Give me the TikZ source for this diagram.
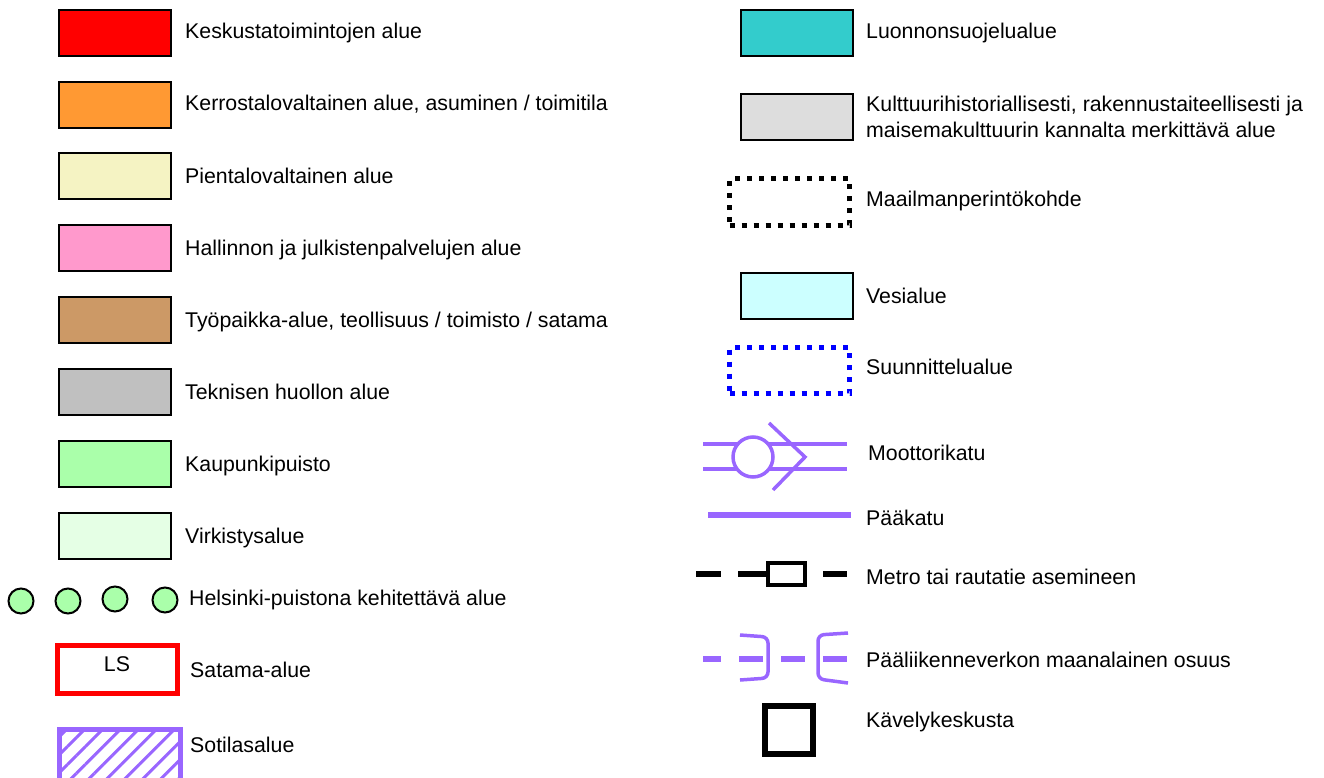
\documentclass[tikz,border=0pt]{standalone}
\usepackage{fontspec}
\setmainfont{Liberation Sans}
\usetikzlibrary{patterns.meta}
\definecolor{keskusta}{HTML}{FF0000}
\definecolor{kerrostalo}{HTML}{FF9933}
\definecolor{pientalo}{HTML}{F5F3C3}
\definecolor{hallinto}{HTML}{FF99CC}
\definecolor{tyopaikka}{HTML}{CC9966}
\definecolor{tekninen}{HTML}{C0C0C0}
\definecolor{puisto}{HTML}{AAFFAA}
\definecolor{virkistys}{HTML}{E5FFE5}
\definecolor{luonto}{HTML}{33CCCC}
\definecolor{kulttuuri}{HTML}{DDDDDD}
\definecolor{vesi}{HTML}{CCFFFF}
\definecolor{purp}{HTML}{9966FF}
\tikzset{
  swatch/.style={draw, line width=1.5pt, minimum width=112pt, minimum height=46pt, inner sep=0pt},
  lbl/.style={anchor=base west, inner sep=0pt, font=\fontsize{21.3}{26}\selectfont},
  dots/.style={draw, line width=5pt, dash pattern=on 5pt off 7pt, minimum width=120pt, minimum height=46pt, inner sep=0pt},
  road/.style={draw=purp, line width=3.5pt},
}
\newcommand{\lbl}[1]{node[lbl]{#1}}

\begin{document}
\begin{tikzpicture}[x=1pt,y=-1pt]
\useasboundingbox (0,0) rectangle (1324,778);
% left column: land use
\node[swatch, fill=keskusta] (keskusta) at (115,33) {};
\node[swatch, fill=kerrostalo] (kerrostalo) at (115,105) {};
\node[swatch, fill=pientalo] (pientalo) at (115,176) {};
\node[swatch, fill=hallinto] (hallinto) at (115,248) {};
\node[swatch, fill=tyopaikka] (tyopaikka) at (115,320) {};
\node[swatch, fill=tekninen] (tekninen) at (115,392) {};
\node[swatch, fill=puisto] (puisto) at (115,464) {};
\node[swatch, fill=virkistys] (virkistys) at (115,536) {};
\draw (185,39) \lbl{Keskustatoimintojen alue}
  (185,111) \lbl{Kerrostalovaltainen alue, asuminen / toimitila}
  (185,183) \lbl{Pientalovaltainen alue}
  (185,255) \lbl{Hallinnon ja julkistenpalvelujen alue}
  (185,327) \lbl{Työpaikka-alue, teollisuus / toimisto / satama}
  (185,399) \lbl{Teknisen huollon alue}
  (185,471) \lbl{Kaupunkipuisto}
  (185,543) \lbl{Virkistysalue};
\foreach \x/\y [count=\i] in {21/601, 68/601, 115/599, 165/600}
  \node[circle, draw, line width=2pt, fill=puisto, minimum size=25pt, inner sep=0pt] (hp\i) at (\x,\y) {};
\node[lbl] (helsinkipuisto) at (189,605) {Helsinki-puistona kehitettävä alue};
\node[draw=keskusta, line width=5pt, minimum width=120pt, minimum height=48pt, inner sep=0pt] (satama) at (117.5,669.5) {};
\node[lbl, anchor=base] at (117,671) {LS};
\node[lbl] at (190,677) {Satama-alue};
\node[draw=purp, line width=5pt, minimum width=121pt, minimum height=51.5pt, inner sep=0pt,
  pattern={Lines[angle=45,distance=12.7pt,line width=3pt]}, pattern color=purp] (sotilas) at (120,755.25) {};
\node[lbl] at (190,752) {Sotilasalue};
% right column
\node[swatch, fill=luonto] (luonto) at (797,33) {};
\node[swatch, fill=kulttuuri] (kulttuuri) at (797,117) {};
\node[dots] (perinto) at (789.5,202) {};
\node[swatch, fill=vesi] (vesi) at (797,296) {};
\node[dots, draw=blue] (suunnittelu) at (789.5,370.5) {};
\draw (866,39) \lbl{Luonnonsuojelualue}
  (866,207) \lbl{Maailmanperintökohde}
  (866,303) \lbl{Vesialue}
  (866,374) \lbl{Suunnittelualue}
  (868,460) \lbl{Moottorikatu}
  (866,525) \lbl{Pääkatu}
  (866,584) \lbl{Metro tai rautatie asemineen}
  (866,667) \lbl{Pääliikenneverkon maanalainen osuus}
  (866,727) \lbl{Kävelykeskusta};
\node[lbl, align=left, anchor=west] (kulttuuriteksti) at (866,117)
  {Kulttuurihistoriallisesti, rakennustaiteellisesti ja\\maisemakulttuurin kannalta merkittävä alue};
% moottorikatu
\draw[road] (703,444) -- (847,444) (703,469) -- (847,469);
\node[circle, draw=purp, line width=3.5pt, fill=white, minimum size=40pt, inner sep=0pt] (liittyma) at (753,457) {};
\draw[road] (769,423) -- (805,457) -- (773,490);
% paakatu
\draw[draw=purp, line width=6pt] (708,515) -- (851,515);
% metro
\node[draw, line width=4pt, minimum width=37pt, minimum height=22pt, inner sep=0pt] (asema) at (786.5,574) {};
\draw[line width=6pt] (696,574) -- (721,574) (738,574) -- (asema.west) (823,574) -- (847,574);
% maanalainen
\draw[draw=purp, line width=6pt] (703,659) -- (721,659) (739,659) -- (763,659) (781,659) -- (805,659) (823,659) -- (847,659);
\draw[road, rounded corners=6pt] (740,635) -- (768,637) -- (768,678) -- (740,680);
\draw[road, rounded corners=6pt] (848,633) -- (818,635) -- (818,679) -- (848,683);
% kavelykeskusta
\node[draw, line width=6pt, minimum size=48pt, inner sep=0pt] (kavely) at (789,730) {};
\end{tikzpicture}
\end{document}
